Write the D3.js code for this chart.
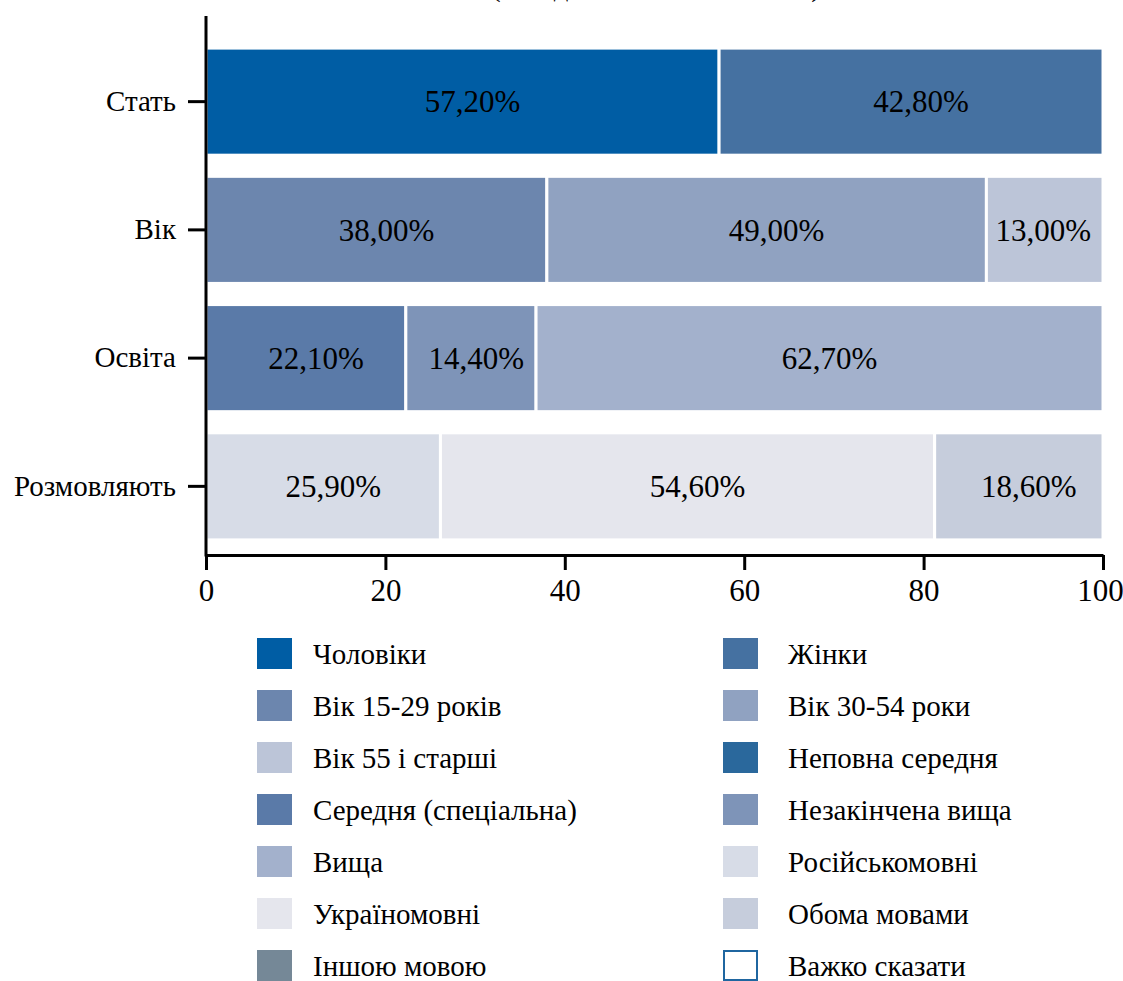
<!DOCTYPE html>
<html lang="uk">
<meta charset="utf-8">
<body style="margin:0">
<script src="https://d3js.org/d3.v7.min.js"></script>
<script>
// categories on the y axis
var categories = ["Стать", "Вік", "Освіта", "Розмовляють"];

// series (legend order, row by row)
var series = [
  "Чоловіки", "Жінки",
  "Вік 15-29 років", "Вік 30-54 роки",
  "Вік 55 і старші", "Неповна середня",
  "Середня (спеціальна)", "Незакінчена вища",
  "Вища", "Російськомовні",
  "Україномовні", "Обома мовами",
  "Іншою мовою", "Важко сказати"
];

// values per series, one per category (0 = not in that bar)
var seriesValues = [
  [57.2, 0, 0, 0],
  [42.8, 0, 0, 0],
  [0, 38.0, 0, 0],
  [0, 49.0, 0, 0],
  [0, 13.0, 0, 0],
  [0, 0, 0, 0],
  [0, 0, 22.1, 0],
  [0, 0, 14.4, 0],
  [0, 0, 62.7, 0],
  [0, 0, 0, 25.9],
  [0, 0, 0, 54.6],
  [0, 0, 0, 18.6],
  [0, 0, 0, 0],
  [0, 0, 0, 0]
];

var xTicks = [0, 20, 40, 60, 80, 100];

var colors = [
  "#005da4", "#4571a1", "#6c86ae", "#90a2c1", "#bcc5d8", "#2a689c", "#5a7aa8",
  "#7e94b8", "#a3b1cc", "#d7dce7", "#e5e6ed", "#c6cddc", "#758897", "#ffffff"
];

var FONT = "Liberation Serif";

var width = 1123, height = 981;

var svg = d3.select("body").append("svg")
    .attr("width", width)
    .attr("height", height)
    .attr("font-family", FONT);

// table for d3.stack
var table = categories.map(function(c, ci) {
  var row = {cat: c};
  series.forEach(function(s, si) { row[s] = seriesValues[si][ci]; });
  return row;
});

var stacked = d3.stack()
    .keys(series)
    .offset(d3.stackOffsetExpand)(table);

var x = d3.scaleLinear().domain([0, 100]).range([206, 1103]);
var y = d3.scaleBand().domain(categories).range([37.5, 550.5])
    .paddingInner(0.165).paddingOuter(0.0827);

var color = d3.scaleOrdinal().domain(series).range(colors);

// title (mostly cut off at the top of the picture)
svg.append("text")
    .attr("x", 656)
    .attr("y", -4)
    .attr("text-anchor", "middle")
    .attr("font-family", FONT)
    .attr("font-size", 29)
    .text("(% від кількості опитаних)");

// bars
var layer = svg.append("g").selectAll("g")
    .data(stacked)
    .join("g")
    .attr("fill", function(d) { return color(d.key); });

layer.selectAll("rect")
    .data(function(d) { return d.filter(function(p) { return p.data[d.key] > 0; }); })
    .join("rect")
    .attr("x", function(p) { return x(p[0] * 100); })
    .attr("y", function(p) { return y(p.data.cat); })
    .attr("width", function(p) { return x(p[1] * 100) - x(p[0] * 100); })
    .attr("height", y.bandwidth())
    .attr("stroke", "#fff")
    .attr("stroke-width", 3);

// value labels
var fmt = d3.format(".2f");
stacked.forEach(function(layerData) {
  layerData.forEach(function(p) {
    var v = p.data[layerData.key];
    if (!v) return;
    var x0 = x(p[0] * 100), x1 = x(p[1] * 100);
    var t = svg.append("text")
        .attr("text-anchor", "middle")
        .attr("y", y(p.data.cat) + y.bandwidth() / 2)
        .attr("dy", "0.35em")
        .attr("font-family", FONT)
        .attr("font-size", 31)
        .text(fmt(v).replace(".", ",") + "%");
    var half = t.node().getComputedTextLength() / 2;
    var cx = Math.min((x0 + x1) / 2 + 10, x1 - half - 12);
    t.attr("x", cx);
  });
});

// x axis
var xAxis = svg.append("g")
    .attr("transform", "translate(0,555)")
    .call(d3.axisBottom(x).tickValues(xTicks).tickSize(15).tickSizeOuter(0).tickPadding(9))
    .attr("font-family", FONT)
    .attr("font-size", 31);
xAxis.selectAll("path, line").attr("stroke", "#000").attr("stroke-width", 3);
xAxis.selectAll("text")
    .attr("fill", "#000")
    .attr("dx", function(d) { return d === 100 ? -3 : 0; });

// y axis
var yAxis = svg.append("g")
    .attr("transform", "translate(206,0)")
    .call(d3.axisLeft(y).tickSize(18).tickPadding(12))
    .attr("font-family", FONT)
    .attr("font-size", 29);
yAxis.select(".domain").remove();
yAxis.selectAll("line").attr("stroke", "#000").attr("stroke-width", 3);
yAxis.selectAll("text").attr("fill", "#000");
svg.append("line")
    .attr("x1", 206).attr("x2", 206)
    .attr("y1", 16).attr("y2", 556.5)
    .attr("stroke", "#000")
    .attr("stroke-width", 3);

// legend
var leg = svg.append("g").selectAll("g")
    .data(series)
    .join("g")
    .attr("transform", function(d, i) {
      var col = i % 2, row = Math.floor(i / 2);
      return "translate(" + (col === 0 ? 257 : 723) + "," + (638 + row * 52) + ")";
    });

leg.append("rect")
    .attr("width", function(d) { return d === "Важко сказати" ? 33 : 35; })
    .attr("height", function(d) { return d === "Важко сказати" ? 29 : 31; })
    .attr("x", function(d) { return d === "Важко сказати" ? 1 : 0; })
    .attr("y", function(d) { return d === "Важко сказати" ? 1 : 0; })
    .attr("fill", function(d) { return color(d); })
    .attr("stroke", function(d) { return d === "Важко сказати" ? "#1f66a0" : "none"; })
    .attr("stroke-width", 2);

leg.append("text")
    .attr("x", function(d, i) { return i % 2 === 0 ? 56 : 65; })
    .attr("y", 15.5)
    .attr("dy", "0.35em")
    .attr("font-family", FONT)
    .attr("font-size", 29)
    .text(function(d) { return d; });
</script>
</body>
</html>
